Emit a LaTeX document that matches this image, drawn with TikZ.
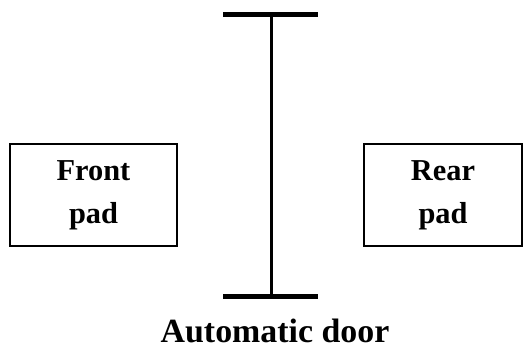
\documentclass[tikz,border=0pt]{standalone}
\usepackage{fontspec}
\setmainfont{Liberation Serif}
\usetikzlibrary{positioning}

\begin{document}
\begin{tikzpicture}[x=1bp,y=-1bp,font=\bfseries]
    \tikzset{pad/.style={draw,line width=1.5bp,minimum width=167bp,minimum height=102bp,
        align=center,font=\fontsize{30.5}{43}\selectfont\bfseries,inner sep=0pt}}
    \useasboundingbox (0,0) rectangle (524,353);

    \node[pad] (front) at (93.5,195) {Front\\pad};
    \node[pad,minimum width=158bp] (rear) at (443,195) {Rear\\pad};

    \coordinate (tl) at (223,14);
    \coordinate (tr) at (318,14);
    \coordinate (bl) at (223,296);
    \coordinate (br) at (318,296);
    \coordinate (top) at (271,14);
    \coordinate (bot) at (271,296);
    \draw[line width=5bp] (tl) -- (tr);
    \draw[line width=5bp] (bl) -- (br);
    \draw[line width=3bp] (top) -- (bot);

    \node[font=\fontsize{34}{40}\selectfont\bfseries] (door) at (275,331) {Automatic door};
\end{tikzpicture}
\end{document}
